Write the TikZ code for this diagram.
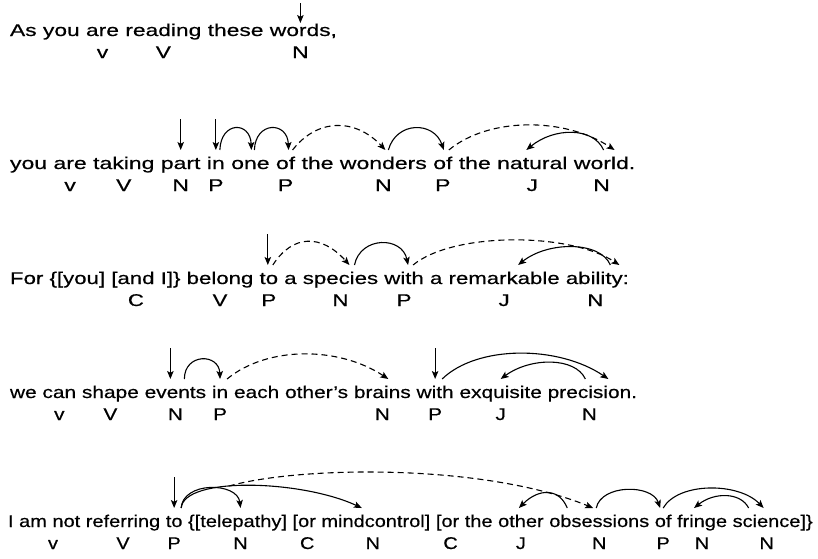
\documentclass[tikz,border=0pt]{standalone}
\usepackage{fontspec}
\setmainfont{Liberation Sans}
\newfontfamily\rowA{Liberation Sans}[FakeStretch=1.341,FakeBold=0.5]
\newfontfamily\rowB{Liberation Sans}[FakeStretch=1.353,FakeBold=0.5]
\newfontfamily\rowC{Liberation Sans}[FakeStretch=1.307,FakeBold=0.5]
\newfontfamily\rowD{Liberation Sans}[FakeStretch=1.228,FakeBold=0.5]
\newfontfamily\rowE{Liberation Sans}[FakeStretch=1.176,FakeBold=0.5]
\usetikzlibrary{positioning,arrows.meta}
\tikzset{
    word/.style={inner sep=0pt,outer sep=0pt,text height=19pt,text depth=4pt},
    tag/.style={inner sep=0pt,outer sep=0pt,anchor=base},
    lineA/.style={font=\rowA\fontsize{17}{20}\selectfont},
    lineB/.style={font=\rowB\fontsize{17}{20}\selectfont},
    lineC/.style={font=\rowC\fontsize{17}{20}\selectfont},
    lineD/.style={font=\rowD\fontsize{17}{20}\selectfont},
    lineE/.style={font=\rowE\fontsize{17}{20}\selectfont},
    link/.style={-{Stealth[length=8pt,width=6.5pt,inset=1.8pt]},line width=1.1pt},
    dashlink/.style={link,dash pattern=on 6pt off 4pt}
}
\begin{document}
\begin{tikzpicture}[x=1pt,y=1pt]
    \useasboundingbox (0,0) rectangle (818,-558);
    % line 1
    \node[word,lineA,anchor=base west] (a1) at (10,-36) {As};
    \foreach \w [count=\i from 2] in {you,are,reading,these,{words,}} {
        \pgfmathtruncatemacro\j{\i-1}
        \node[word,lineA,base right=6.34pt of a\j] (a\i) {\w};
    }
    \foreach \k/\dx/\t in {3/0/v,4/0/V,6/-3/N}
        \node[tag,lineA] (ta\k) at ([xshift=\dx,yshift=-22]a\k.base) {\t};
    \draw[link] ([xshift=-3pt,yshift=14pt]a6.north) -- ([xshift=-3pt,yshift=-6pt]a6.north);

    % line 2
    \node[word,lineB,anchor=base west] (b1) at (10,-169) {you};
    \foreach \w [count=\i from 2] in {are,taking,part,in,one,of,the,wonders,of,the,natural,world.} {
        \pgfmathtruncatemacro\j{\i-1}
        \node[word,lineB,base right=6.39pt of b\j] (b\i) {\w};
    }
    \foreach \k/\dx/\t in {2/0/v,3/0/V,4/0/N,5/0/P,7/0/P,9/0/N,10/0/P,12/0/J,13/-3/N}
        \node[tag,lineB] (tb\k) at ([xshift=\dx,yshift=-22]b\k.base) {\t};
    \draw[link] ([yshift=31pt]b4.north) -- (b4.north);
    \draw[link] ([yshift=31pt]b5.north) -- (b5.north);
    \draw[link] ([xshift=4pt]b5.north) .. controls +(1,29) and +(-1,29) .. ([xshift=1pt]b6.north);
    \draw[link] ([xshift=4pt]b6.north) .. controls +(1,29) and +(-1,29) .. ([xshift=3pt]b7.north);
    \draw[dashlink] ([xshift=7pt]b7.north) .. controls +(25,32) and +(-30,32) .. ([xshift=2pt]b9.north);
    \draw[link] ([xshift=5pt]b9.north) .. controls +(8,29) and +(-10,29) .. ([xshift=1pt]b10.north);
    \draw[dashlink] ([xshift=6pt]b10.north) .. controls +(40,33) and +(-50,33) .. ([xshift=10pt]b13.north);
    \draw[link] ([xshift=-1pt]b13.north) .. controls +(-10,23) and +(28,23) .. ([xshift=-6pt]b12.north);

    % line 3
    \node[word,lineC,anchor=base west] (c1) at (10,-284) {For};
    \foreach \w [count=\i from 2] in {{\{[you]},{[and},{I]\}},belong,to,a,species,with,a,remarkable,ability:} {
        \pgfmathtruncatemacro\j{\i-1}
        \node[word,lineC,base right=6.18pt of c\j] (c\i) {\w};
    }
    \foreach \k/\dx/\t in {3/3/C,5/0/V,6/0/P,8/0/N,9/0/P,11/0/J,12/-2/N}
        \node[tag,lineC] (tc\k) at ([xshift=\dx,yshift=-22]c\k.base) {\t};
    \draw[link] ([xshift=-1pt,yshift=31pt]c6.north) -- ([xshift=-1pt]c6.north);
    \draw[dashlink] ([xshift=4pt]c6.north) .. controls +(20,31) and +(-28,31) .. ([xshift=9pt]c8.north);
    \draw[link] ([xshift=14pt]c8.north) .. controls +(6,29) and +(-6,29) .. ([xshift=4pt]c9.north);
    \draw[dashlink] ([xshift=9pt]c9.north) .. controls +(40,33) and +(-50,33) .. ([xshift=22pt]c12.north);
    \draw[link] ([xshift=13pt]c12.north) .. controls +(-10,24) and +(30,24) .. ([xshift=14pt]c11.north);

    % line 4
    \node[word,lineD,anchor=base west] (d1) at (10,-398) {we};
    \foreach \w [count=\i from 2] in {can,shape,events,in,each,other’s,brains,with,exquisite,precision.} {
        \pgfmathtruncatemacro\j{\i-1}
        \node[word,lineD,base right=5.80pt of d\j] (d\i) {\w};
    }
    \foreach \k/\dx/\t in {2/0/v,3/0/V,4/0/N,5/0/P,8/0/N,9/0/P,10/0/J,11/-3/N}
        \node[tag,lineD] (td\k) at ([xshift=\dx,yshift=-22]d\k.base) {\t};
    \draw[link] ([xshift=-5pt,yshift=31pt]d4.north) -- ([xshift=-5pt]d4.north);
    \draw[link] ([xshift=9pt]d4.north) .. controls +(0,26) and +(-1,26) .. (d5.north);
    \draw[dashlink] ([xshift=7pt]d5.north) .. controls +(40,33) and +(-50,33) .. ([xshift=6pt]d8.north);
    \draw[link] ([yshift=31pt]d9.north) -- (d9.north);
    \draw[link] ([xshift=7pt]d9.north) .. controls +(35,34) and +(-50,34) .. ([xshift=16pt]d11.north);
    \draw[link] ([xshift=-7pt]d11.north) .. controls +(-10,22) and +(30,22) .. (d10.north);

    % line 5
    \node[word,lineE,anchor=base west] (e1) at (8,-527) {I};
    \foreach \w [count=\i from 2] in {am,not,referring,to,{\{[telepathy]},{[or},{mindcontrol]},{[or},the,other,obsessions,of,fringe,{science]\}}} {
        \pgfmathtruncatemacro\j{\i-1}
        \node[word,lineE,base right=5.56pt of e\j] (e\i) {\w};
    }
    \foreach \k/\dx/\t in {2/20/v,4/0/V,5/0/P,6/3/N,7/3/C,8/-3/N,9/3/C,11/0/J,12/0/N,13/0/P,14/0/N,15/-6/N}
        \node[tag,lineE] (te\k) at ([xshift=\dx,yshift=-22]e\k.base) {\t};
    \draw[link] ([yshift=31pt]e5.north) -- (e5.north);
    \draw[link] ([xshift=7pt]e5.north) .. controls +(2,27) and +(-3,26) .. ([xshift=3pt]e6.north);
    \draw[link] ([xshift=7pt]e5.north) .. controls +(3,32) and +(-60,28) .. coordinate[pos=0.4] (fork) ([xshift=-14pt]e8.north);
    \draw[dashlink] (fork) .. controls +(70,20) and +(-110,45) .. ([xshift=-6pt]e12.north);
    \draw[link] ([xshift=-32pt]e12.north) .. controls +(-8,20) and +(20,20) .. ([xshift=-2pt]e11.north);
    \draw[link] ([xshift=-3pt]e12.north) .. controls +(5,24) and +(-8,24) .. ([xshift=-3pt]e13.north);
    \draw[link] (e13.north) .. controls +(15,26) and +(-25,26) .. ([xshift=-9pt]e15.north);
    \draw[link] ([xshift=-24pt]e15.north) .. controls +(-8,16) and +(20,16) .. ([xshift=-8pt]e14.north);
\end{tikzpicture}
\end{document}
